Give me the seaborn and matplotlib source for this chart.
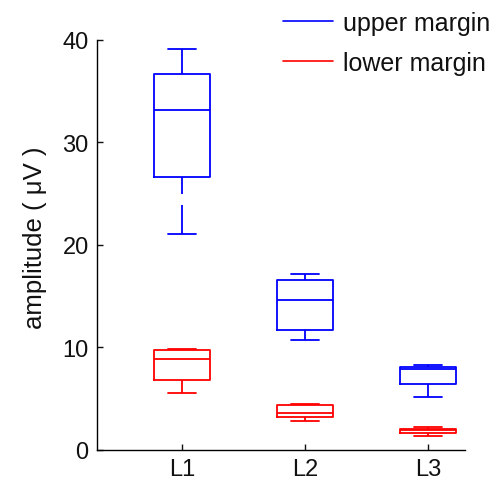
import numpy as np
import pandas as pd
import matplotlib
matplotlib.use("Agg")
import matplotlib.pyplot as plt
from matplotlib.lines import Line2D
import seaborn as sns

# five-number summaries (whisker low, q1, median, q3, whisker high)
levels = ["L1", "L2", "L3"]
margins = ["upper margin", "lower margin"]
upper_L1 = [21.1, 26.6, 33.2, 36.7, 39.1]
upper_L2 = [10.7, 11.7, 14.6, 16.6, 17.2]
upper_L3 = [5.1, 6.4, 7.9, 8.1, 8.3]
lower_L1 = [5.5, 6.8, 8.9, 9.75, 9.85]
lower_L2 = [2.85, 3.2, 3.6, 4.35, 4.5]
lower_L3 = [1.35, 1.65, 1.9, 2.05, 2.2]
colors = {"upper margin": "#0000ff", "lower margin": "#ff0000"}

rows = []
for m, vals in zip(margins, [[upper_L1, upper_L2, upper_L3], [lower_L1, lower_L2, lower_L3]]):
    for lev, v in zip(levels, vals):
        for a in v:
            rows.append({"level": lev, "margin": m, "amplitude": a})
df = pd.DataFrame(rows)

sns.set_style("white")
plt.rcParams["font.family"] = ["Liberation Sans", "DejaVu Sans"]

fig = plt.figure(figsize=(5, 4.85), dpi=100)
ax = fig.add_axes([0.194, 0.0707, 0.736, 0.8448])

lw = 1.3
sns.boxplot(data=df, x="level", y="amplitude", hue="margin", hue_order=margins,
            palette=colors, fill=False, dodge=False, width=0.45, whis=(0, 100),
            saturation=1, linewidth=lw, legend=False, ax=ax,
            whiskerprops={"linestyle": (0, (20.9 / lw, 7.9 / lw))})

# MATLAB draws the dashed whisker starting from the whisker end
for line in ax.lines:
    if line.get_linestyle() == "--":
        line.set_xdata(np.asarray(line.get_xdata())[::-1])
        line.set_ydata(np.asarray(line.get_ydata())[::-1])

ax.set_xlim(-0.69, 2.30)
ax.set_ylim(0, 40)
ax.set_yticks([0, 10, 20, 30, 40])
ax.set_xlabel("")
ax.set_ylabel("amplitude ( \u03bcV )", fontsize=18.5, color="#111111")
ax.yaxis.set_label_coords(-0.135, 0.52)
ax.tick_params(direction="in", length=4, width=1, labelsize=17, colors="#111111", pad=6,
               left=True, bottom=True)
sns.despine(ax=ax)
for s in ["left", "bottom"]:
    ax.spines[s].set_color("black")
    ax.spines[s].set_linewidth(1)

handles = [Line2D([], [], color=colors[m], lw=1.2) for m in margins]
leg = fig.legend(handles, margins, loc="upper left", bbox_to_anchor=(0.566, 0.975),
                 frameon=False, fontsize=18, handlelength=2.0, handletextpad=0.4,
                 labelspacing=0.62, borderpad=0, borderaxespad=0)
for t in leg.get_texts():
    t.set_color("#111111")

fig.savefig("out.png", dpi=100)
